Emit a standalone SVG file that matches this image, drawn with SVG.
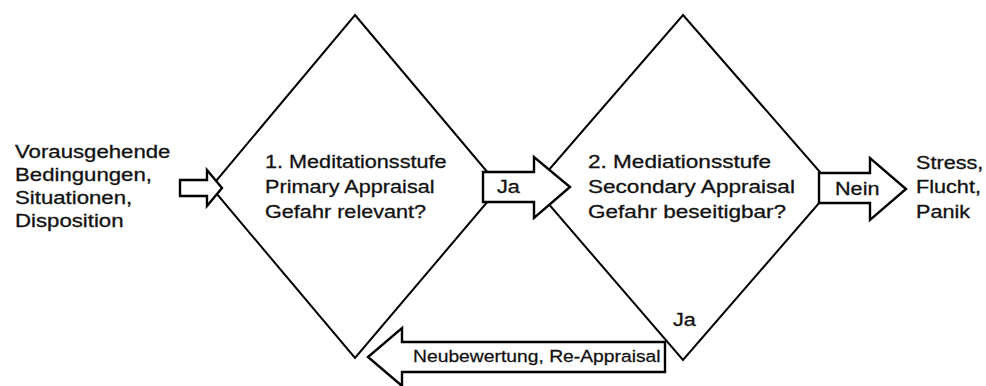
<svg xmlns="http://www.w3.org/2000/svg" width="986" height="386" viewBox="0 0 986 386">
<style>
.shape{fill:#fff;stroke:#000;stroke-width:2;stroke-linejoin:miter}
.arrow{fill:#fff;stroke:#000;stroke-width:2.4;stroke-linejoin:miter}
.t{font-family:"Liberation Sans",Arial,sans-serif;font-size:18.5px;fill:#111;stroke:#111;stroke-width:0.3}
.ts{font-family:"Liberation Sans",Arial,sans-serif;font-size:16.5px;fill:#111;stroke:#111;stroke-width:0.25}
</style>
<rect width="986" height="386" fill="#fff"/>
<g id="input">
<text class="t" transform="translate(15,158) scale(1.2 1)"><tspan x="0" y="0">Vorausgehende</tspan><tspan x="0" y="23">Bedingungen,</tspan><tspan x="0" y="46">Situationen,</tspan><tspan x="0" y="69">Disposition</tspan></text>
</g>
<g id="stage1">
<polygon class="shape" points="355,15 500,187 355,358 211,187"/>
<text class="t" transform="translate(265,168) scale(1.17 1)"><tspan x="0" y="0">1. Meditationsstufe</tspan><tspan x="0" y="25">Primary Appraisal</tspan><tspan x="0" y="50">Gefahr relevant?</tspan></text>
</g>
<g id="stage2">
<polygon class="shape" points="683,15 833,187 683,360 534,187"/>
<text class="t" transform="translate(588,168) scale(1.22 1)"><tspan x="0" y="0">2. Mediationsstufe</tspan><tspan x="0" y="25">Secondary Appraisal</tspan><tspan x="0" y="50">Gefahr beseitigbar?</tspan></text>
</g>
<g id="output">
<text class="t" transform="translate(916,169) scale(1.17 1)"><tspan x="0" y="0">Stress,</tspan><tspan x="0" y="24.5">Flucht,</tspan><tspan x="0" y="49">Panik</tspan></text>
</g>
<g id="connectors">
<polygon class="arrow" points="180,180 207,180 207,170 222,188 207,206 207,196 180,196"/>
<polygon class="arrow" points="483,172 534,172 534,157 570,187 534,218 534,202 483,202"/>
<text class="t" transform="translate(497,193) scale(1.17 1)">Ja</text>
<polygon class="arrow" points="819,173 870,173 870,158 906,189 870,220 870,203 819,203"/>
<text class="t" transform="translate(835,195) scale(1.17 1)">Nein</text>
<text class="t" transform="translate(673,326) scale(1.17 1)">Ja</text>
<polygon class="arrow" points="665,342 402,342 402,328 368,357 402,386 402,372 665,372"/>
<text class="ts" transform="translate(413,362) scale(1.17 1)">Neubewertung, Re-Appraisal</text>
</g>
</svg>
